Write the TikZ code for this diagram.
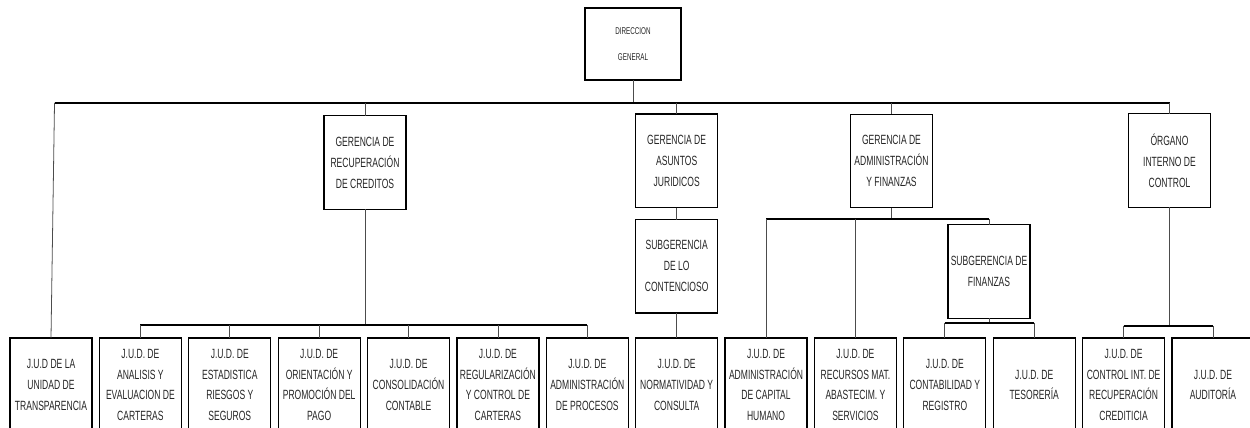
\documentclass[tikz,border=0pt]{standalone}
\usepackage{fontspec}
\setmainfont{Liberation Sans}[FakeStretch=0.64]
\usepackage{xcolor}
\usepackage{tikz}
\usetikzlibrary{positioning}

\begin{document}
\begin{tikzpicture}[x=0.02cm, y=-0.02cm,
    unit/.style={draw, line width=0.7pt, fill=white, align=center, inner sep=1pt, outer sep=0pt, text=black!85,
        minimum width=1.64cm, minimum height=1.87cm, font=\fontsize{7.6}{11.9}\selectfont},
    jud/.style={unit, minimum height=1.88cm},
    link/.style={draw=black!70, line width=0.45pt},
    bus/.style={draw=black, line width=0.9pt}]
    \clip (0,0) rectangle (1250,428);

    % bottom row
    \node[jud] at (51,385) (transp) {J.U.D DE LA\\UNIDAD DE\\TRANSPARENCIA};
    \node[jud, right=0.148cm of transp] (analisis) {J.U.D. DE\\ANALISIS Y\\EVALUACION DE\\CARTERAS};
    \node[jud, right=0.148cm of analisis] (estad) {J.U.D. DE\\ESTADISTICA\\RIESGOS Y\\SEGUROS};
    \node[jud, right=0.148cm of estad] (orient) {J.U.D. DE\\ORIENTACIÓN Y\\PROMOCIÓN DEL\\PAGO};
    \node[jud, right=0.148cm of orient] (consol) {J.U.D. DE\\CONSOLIDACIÓN\\CONTABLE};
    \node[jud, right=0.148cm of consol] (regul) {J.U.D. DE\\REGULARIZACIÓN\\Y CONTROL DE\\CARTERAS};
    \node[jud, right=0.148cm of regul] (procesos) {J.U.D. DE\\ADMINISTRACIÓN\\DE PROCESOS};
    \node[jud, right=0.148cm of procesos] (normat) {J.U.D. DE\\NORMATIVIDAD Y\\CONSULTA};
    \node[jud, right=0.148cm of normat] (capital) {J.U.D. DE\\ADMINISTRACIÓN\\DE CAPITAL\\HUMANO};
    \node[jud, right=0.148cm of capital] (recursos) {J.U.D. DE\\RECURSOS MAT.\\ABASTECIM. Y\\SERVICIOS};
    \node[jud, right=0.148cm of recursos] (contab) {J.U.D. DE\\CONTABILIDAD Y\\REGISTRO};
    \node[jud, right=0.148cm of contab] (tesor) {J.U.D. DE\\TESORERÍA};
    \node[jud, right=0.148cm of tesor] (ctrlint) {J.U.D. DE\\CONTROL INT. DE\\RECUPERACIÓN\\CREDITICIA};
    \node[jud, right=0.148cm of ctrlint] (audit) {J.U.D. DE\\AUDITORÍA};

    % upper levels
    \node[unit, minimum width=1.92cm, minimum height=1.44cm, font=\fontsize{5.6}{15}\selectfont] at (633,44) (dir) {DIRECCION\\GENERAL};
    \node[unit] at (365,162.5) (grc) {GERENCIA DE\\RECUPERACIÓN\\DE CREDITOS};
    \node[unit, above=0.5cm of normat] (sgc) {SUBGERENCIA\\DE LO\\CONTENCIOSO};
    \node[unit, above=0.24cm of sgc] (gaj) {GERENCIA DE\\ASUNTOS\\JURIDICOS};
    \node[unit] at (891.5,161) (gaf) {GERENCIA DE\\ADMINISTRACIÓN\\Y FINANZAS};
    \node[unit] at (1169.5,160.5) (oic) {ÓRGANO\\INTERNO DE\\CONTROL};
    \node[unit] at (989,271.5) (sgf) {SUBGERENCIA DE\\FINANZAS};

    % bus lines
    \coordinate (bus) at (0,103);
    \coordinate (sbrc) at (0,325);
    \coordinate (sbaf) at (0,219);
    \coordinate (sbf) at (0,323);
    \coordinate (sboc) at (0,326);

    \draw[link] (dir) -- (dir.south |- bus);
    \draw[link] (transp.north) -- ([xshift=2pt]transp.north |- bus);
    \draw[bus] ([xshift=2pt]transp.north |- bus) -- (oic.north |- bus);
    \draw[link] (oic.north |- bus) -- (oic.north);
    \draw[link] (grc.north |- bus) -- (grc.north);
    \draw[link] (gaj.north |- bus) -- (gaj.north);
    \draw[link] (gaf.north |- bus) -- (gaf.north);

    \draw[link] (grc) -- (grc.south |- sbrc);
    \draw[bus] (analisis.north |- sbrc) -- (procesos.north |- sbrc);
    \draw[link] (analisis.north |- sbrc) -- (analisis.north);
    \draw[link] (estad.north |- sbrc) -- (estad.north);
    \draw[link] (orient.north |- sbrc) -- (orient.north);
    \draw[link] (consol.north |- sbrc) -- (consol.north);
    \draw[link] (regul.north |- sbrc) -- (regul.north);
    \draw[link] (procesos.north |- sbrc) -- (procesos.north);

    \draw[link] (gaj) -- (sgc);
    \draw[link] (sgc) -- (normat);

    \draw[link] (gaf) -- (gaf.south |- sbaf);
    \draw[bus] (capital.north |- sbaf) -- (sgf.north |- sbaf);
    \draw[link] (capital.north |- sbaf) -- (capital.north);
    \draw[link] (recursos.north |- sbaf) -- (recursos.north);
    \draw[link] (sgf.north |- sbaf) -- (sgf.north);

    \draw[link] (sgf) -- (sgf.south |- sbf);
    \draw[bus] (contab.north |- sbf) -- (tesor.north |- sbf);
    \draw[link] (contab.north |- sbf) -- (contab.north);
    \draw[link] (tesor.north |- sbf) -- (tesor.north);

    \draw[link] (oic) -- (oic.south |- sboc);
    \draw[bus] (ctrlint.north |- sboc) -- (audit.north |- sboc);
    \draw[link] (ctrlint.north |- sboc) -- (ctrlint.north);
    \draw[link] (audit.north |- sboc) -- (audit.north);
\end{tikzpicture}
\end{document}
